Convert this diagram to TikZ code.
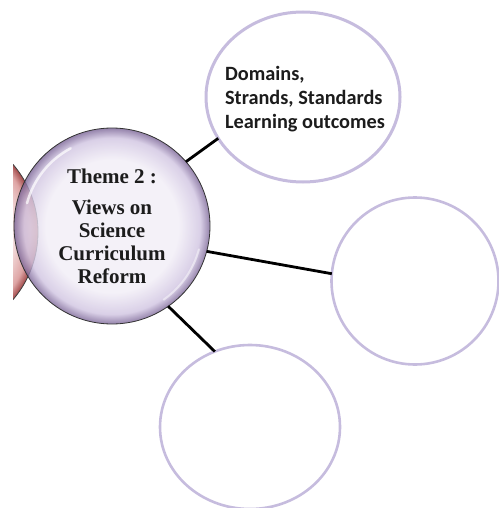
\documentclass[tikz,border=0pt]{standalone}
\usepackage{fontspec}
\setmainfont{Liberation Serif}
\newfontfamily\calibri{Carlito}
\usetikzlibrary{shapes.geometric}
\definecolor{rimline}{RGB}{198,188,222}
\definecolor{glasslight}{RGB}{241,237,246}
\definecolor{glassmid}{RGB}{208,196,225}
\definecolor{glassdark}{RGB}{122,100,150}
\definecolor{redlight}{RGB}{244,222,222}
\definecolor{redmid}{RGB}{222,165,165}
\definecolor{reddark}{RGB}{160,72,72}
\definecolor{textdark}{RGB}{28,28,28}
\pgfdeclareradialshading{themeglass}{\pgfpoint{0bp}{0bp}}{color(0bp)=(glasslight); color(17bp)=(glasslight); color(22.5bp)=(glassmid); color(25bp)=(glassdark); color(50bp)=(glassdark)}
\pgfdeclareradialshading{redglass}{\pgfpoint{0bp}{0bp}}{color(0bp)=(redlight); color(19bp)=(redlight); color(23bp)=(redmid); color(25bp)=(reddark); color(50bp)=(reddark)}
\begin{document}
\begin{tikzpicture}[x=1pt, y=-1pt, every node/.style = 
     {outer sep = 0pt, inner sep = 0pt},
     bubble/.style = {ellipse, draw=rimline, line width=2.6pt, fill=white},
     link/.style = {line width=2.8pt, black}]
    \useasboundingbox (0,0) rectangle (498,508);
    \begin{scope}
        \clip (13,0) rectangle (498,508);
        \node [circle, minimum size=208pt, draw=black!75, line width=0.8pt,
                shade, shading=redglass] 
            at (-66,232) (P) {};
    \end{scope}
    \node [circle, minimum size=196pt, draw=black!80, line width=0.8pt,
            shade, shading=themeglass, fill opacity=0.8, text opacity=1,
            align=center, text=textdark,
            font=\bfseries\fontsize{21}{22.7}\selectfont] 
        at (112,226) (T) {Theme 2 :\\[9pt]Views on\\Science\\Curriculum\\Reform};
    \draw [white, opacity=0.7, line width=2.5pt, line cap=round]
        (T.center) ++(-165:88) arc [start angle=-165, end angle=-118, radius=88];
    \draw [white, opacity=0.5, line width=2pt, line cap=round]
        (T.center) ++(15:90) arc [start angle=15, end angle=55, radius=90];
    \node [bubble, minimum width=194pt, minimum height=170pt, line width=3pt] 
        at (303,97) (S) {};
    \node [draw=none, fill=none, align=left, text=textdark,
            font=\calibri\bfseries\fontsize{20.3}{24.3}\selectfont] 
        at (305,99) (St) {Domains,\\Strands, Standards\\Learning outcomes};
    \node [bubble, minimum width=167pt, minimum height=167pt] 
        at (415,281) (R) {};
    \node [bubble, minimum width=180pt, minimum height=164pt] 
        at (250,427) (B) {};
    \draw [link] (T.41.6) -- (S.206);
    \draw [link] (T.-15) -- (R.175);
    \draw [link] (T.-55) -- (B.115);
\end{tikzpicture}
\end{document}
